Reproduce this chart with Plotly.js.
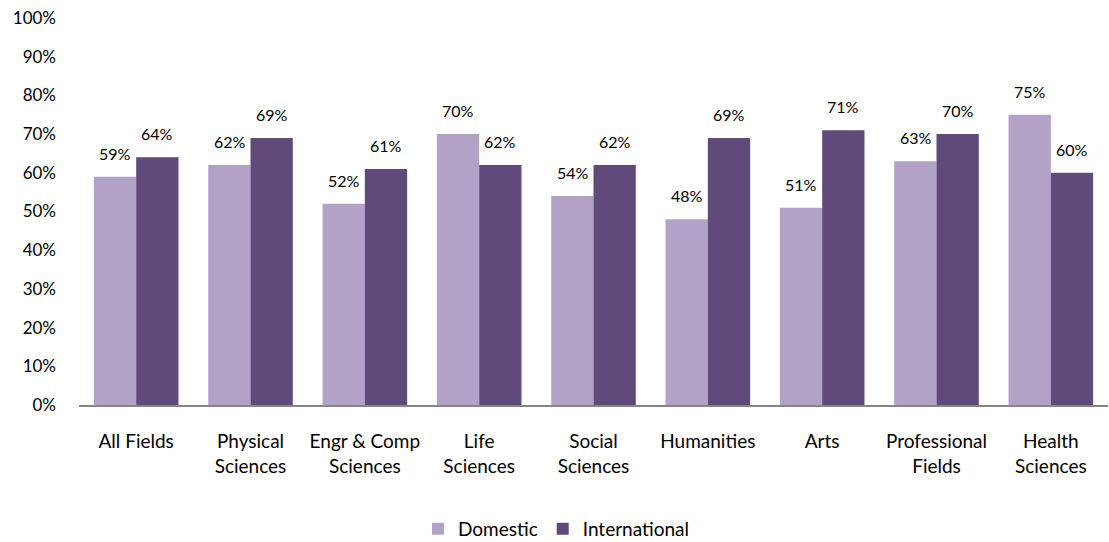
<!DOCTYPE html>
<html>
<head>
<meta charset="utf-8">
<script src="https://cdn.plot.ly/plotly-3.0.1.min.js"></script>
<style>html,body{margin:0;padding:0;background:#fff;}#chart{width:1109px;height:542px;}</style>
</head>
<body>
<div id="chart"></div>
<script>
const categories = ["All Fields", "Physical<br>Sciences", "Engr & Comp<br>Sciences", "Life<br>Sciences", "Social<br>Sciences", "Humanities", "Arts", "Professional<br>Fields", "Health<br>Sciences"];
const domestic = [59, 62, 52, 70, 54, 48, 51, 63, 75];
const international = [64, 69, 61, 62, 62, 69, 71, 70, 60];
const seriesNames = ["Domestic", "International"];
const yTicks = [0, 10, 20, 30, 40, 50, 60, 70, 80, 90, 100];

const FONT = "Lato, 'Open Sans', sans-serif";
const colors = ["#B3A2C7", "#604A7B"];

const traces = [domestic, international].map((vals, i) => ({
  type: "bar",
  name: seriesNames[i],
  x: categories,
  y: vals,
  marker: {color: colors[i]},
  hoverinfo: "skip"
}));

const annotations = [];
[domestic, international].forEach((vals, i) => {
  vals.forEach((v, j) => {
    annotations.push({
      xref: "x", yref: "y", x: categories[j], y: v,
      text: v + "%", showarrow: false,
      xshift: i === 0 ? -21 : 21, yanchor: "bottom", yshift: 12,
      font: {family: FONT, size: 16, color: "#000"}
    });
  });
});

const layout = {
  width: 1109, height: 542,
  margin: {l: 79, r: 1, t: 18, b: 137, autoexpand: false},
  paper_bgcolor: "#fff", plot_bgcolor: "#fff",
  barmode: "group", bargap: 0.26, bargroupgap: 0,
  font: {family: FONT, size: 17, color: "#000"},
  showlegend: true,
  legend: {orientation: "h", x: 0.464, xanchor: "center", y: -0.32, yanchor: "middle",
           font: {family: FONT, size: 19, color: "#000"}, traceorder: "normal", itemwidth: 30},
  xaxis: {type: "category", showgrid: false, showline: true, linecolor: "#868686", linewidth: 2,
          ticks: "", tickfont: {family: FONT, size: 19, color: "#000"}, ticklabelstandoff: 18, fixedrange: true, automargin: false},
  yaxis: {range: [0, 100], tickvals: yTicks, ticktext: yTicks.map(t => t + "%"), showgrid: false,
          showline: false, zeroline: false, ticks: "", ticklabelstandoff: 22, automargin: false,
          tickfont: {family: FONT, size: 17, color: "#000"}, fixedrange: true},
  annotations: annotations
};

Plotly.newPlot("chart", traces, layout, {displayModeBar: false, staticPlot: true});
</script>
</body>
</html>
